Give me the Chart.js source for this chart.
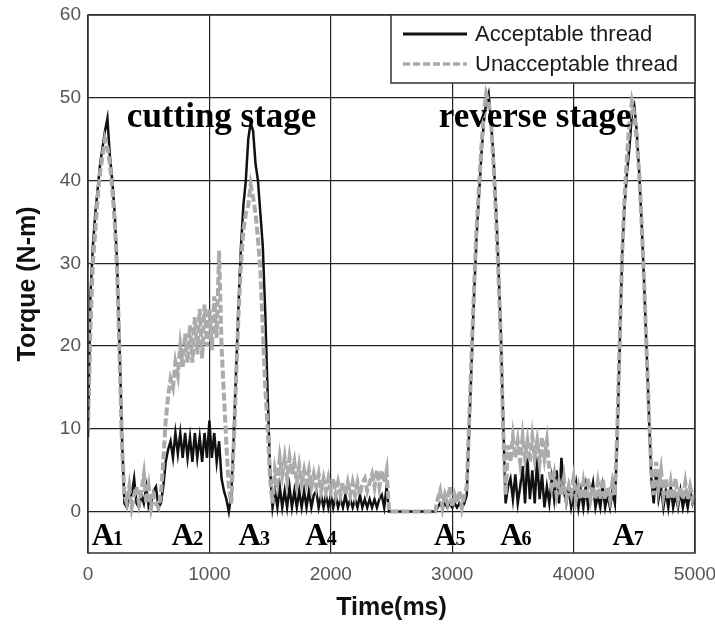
<!DOCTYPE html>
<html><head><meta charset="utf-8">
<script src="https://cdn.jsdelivr.net/npm/chart.js@4"></script>
<style>html,body{margin:0;padding:0;background:#fff;}canvas{display:block;}</style>
</head><body>
<canvas id="c" width="715" height="627"></canvas>
<script>
// ---------- data (time in ms, torque in N-m) ----------
const timeMs = [
  0,20,40,60,80,100,120,140,160,180,
  200,220,240,260,280,300,320,340,360,380,
  400,420,440,460,480,500,520,540,560,580,
  600,620,640,660,680,700,720,740,760,780,
  800,820,840,860,880,900,920,940,960,980,
  1000,1020,1040,1060,1080,1100,1120,1140,1160,1180,
  1200,1220,1240,1260,1280,1300,1320,1340,1360,1380,
  1400,1420,1440,1460,1480,1500,1520,1540,1560,1580,
  1600,1620,1640,1660,1680,1700,1720,1740,1760,1780,
  1800,1820,1840,1860,1880,1900,1920,1940,1960,1980,
  2000,2020,2040,2060,2080,2100,2120,2140,2160,2180,
  2200,2220,2240,2260,2280,2300,2320,2340,2360,2380,
  2400,2420,2440,2460,2480,2500,2520,2540,2560,2580,
  2600,2620,2640,2660,2680,2700,2720,2740,2760,2780,
  2800,2820,2840,2860,2880,2900,2920,2940,2960,2980,
  3000,3020,3040,3060,3080,3100,3120,3140,3160,3180,
  3200,3220,3240,3260,3280,3300,3320,3340,3360,3380,
  3400,3420,3440,3460,3480,3500,3520,3540,3560,3580,
  3600,3620,3640,3660,3680,3700,3720,3740,3760,3780,
  3800,3820,3840,3860,3880,3900,3920,3940,3960,3980,
  4000,4020,4040,4060,4080,4100,4120,4140,4160,4180,
  4200,4220,4240,4260,4280,4300,4320,4340,4360,4380,
  4400,4420,4440,4460,4480,4500,4520,4540,4560,4580,
  4600,4620,4640,4660,4680,4700,4720,4740,4760,4780,
  4800,4820,4840,4860,4880,4900,4920,4940,4960,4980,
  5000
];
const acceptableTorque = [
  9,26,32,36,39,42,44,46,47.5,43,
  40,36,30,20,9,1,0.5,1.5,2,4,
  1,0.5,2,1,3,0.5,1,2.5,3,0.5,
  1,3,6,7.5,8.5,6.5,9.5,7,9.5,6.5,
  9.5,6.5,9,6,9.5,6.5,9,6,9.5,6.5,
  11,6.5,9.5,6,8.5,4,2.5,1.5,0,2,
  9,17,25,32,37,40,45,47,46,42,
  40,36,32,24,14,5,0.5,2.5,0.5,3,
  0.5,2.5,0.5,3,0.5,2.5,0.5,2.5,0.5,2.5,
  0.5,2.5,0.5,2,2.5,0.5,2,0.5,2,0.5,
  2,0.5,2,0.5,1.5,0.5,2,0.5,1.5,0.5,
  1.5,0.5,2,0.5,1.5,0.5,1.5,0.5,1.5,0.5,
  1.5,2,0.5,3,0,0,0,0,0,0,
  0,0,0,0,0,0,0,0,0,0,
  0,0,0,0,0.5,1,0.5,1,0.5,1,
  0.5,1,0.5,1,0.5,1,2,10,18,26,
  33,38,43,47,49.5,50.5,47,43,37,30,
  22,11,1,3,4,1.5,4.5,1,3,5.5,
  1,6.5,1.5,5,1,6.5,1.5,4.5,0.5,3,
  1,4,1.5,5,1,6.5,2.5,1,3,0.5,
  2,3.5,0.5,2.5,0.5,3,0.5,2,3.5,0.5,
  2,0.5,3,0.5,2,0.5,2.5,1,9,20,
  31,37,41,44,48,49,46,41,35,28,
  20,12,4,1,5,1.5,3,0.5,2.5,0.5,
  3,0.5,2,0.5,2.5,0.5,2,0.5,2.5,1,
  2
];
const unacceptableTorque = [
  10,22,30,34,38,41,43,45,44,42,
  39,35,29,19,8,2,1,3,0.5,2,
  3,1,2.5,4.5,1,3,0.5,2,1,0.5,
  2,6,11,14,16,15,18,16.5,20,17.5,
  21.5,18,22.5,18,23.5,19,24.5,18.5,25,20,
  24.5,19.5,26,21,31.5,20,14,8,3,1,
  8,16,24,30,34,36,37,39.5,38,36,
  33,29,22,15,10,4,1,5,3.5,6.5,
  4.5,6.5,4,6.5,4.5,6,3.5,5.5,3.5,5,
  3.5,5,3,4.5,3,4.5,2.5,4,2.5,4,
  2.5,4,2,3.5,2,3.5,2,3.5,2,3.5,
  2,3.5,2,3.5,4,2.5,3.5,4.5,3,5,
  3,5,3.5,5,0,0,0,0,0,0,
  0,0,0,0,0,0,0,0,0,0,
  0,0,0,0,1.5,2.5,0.5,2,1,3,
  0.5,2,1,2.5,0.5,2,3,11,19,27,
  34,39,44,48,50.5,49.5,47,42,36,29,
  21,10,2,8,6,9,6.5,8.5,6,9,
  6.5,8.5,6,9,6.5,8.5,6,9,6.5,8.5,
  5,3,4.5,2,3.5,2,4,1.5,3,2,
  4,1.5,3,1.5,3.5,1.5,4,1.5,3,1.5,
  3.5,1.5,4,1.5,3,1.5,3.5,2,10,21,
  31,38,43,47,49.5,48,45,41,35,28,
  20,12,5,2,6,3,5,2,4,1.5,
  3.5,1.5,4,1.5,3,1.5,3.5,1.5,3,1.5,
  2.5
];
const xTickValues = [0,1000,2000,3000,4000,5000];
const yTickValues = [0,10,20,30,40,50,60];
const seriesLabels = ['Acceptable thread','Unacceptable thread'];
const stageLabels = ['cutting stage','reverse stage'];
const phaseLabels = ['A1','A2','A3','A4','A5','A6','A7'];

// ---------- layout (positions in data units) ----------
const stageAnchors = [{t:320, v:46.5},{t:2890, v:46.5}];
const phaseAnchorsMs = [30,690,1240,1790,2850,3395,4320];

const SANS = '"Liberation Sans", Arial, sans-serif';
const SERIF = '"Liberation Serif", "Times New Roman", serif';
const BLACK = '#111111';
const GREY = '#ababab';

const overlay = {
  id: 'overlay',
  afterDatasetsDraw(chart) {
    const {ctx, chartArea: a, scales: {x, y}} = chart;
    ctx.save();
    ctx.strokeStyle = '#333';
    ctx.lineWidth = 1.5;
    ctx.strokeRect(a.left, a.top, a.right - a.left, a.bottom - a.top);

    ctx.fillStyle = '#000';
    ctx.font = 'bold 35px ' + SERIF;
    ctx.textBaseline = 'alphabetic';
    ctx.textAlign = 'left';
    stageLabels.forEach((s, i) => {
      ctx.fillText(s, x.getPixelForValue(stageAnchors[i].t), y.getPixelForValue(stageAnchors[i].v));
    });

    phaseLabels.forEach((lab, i) => {
      const px = x.getPixelForValue(phaseAnchorsMs[i]);
      const py = a.bottom - 8;
      ctx.font = 'bold 31px ' + SERIF;
      ctx.fillText(lab[0], px, py);
      const w = ctx.measureText(lab[0]).width;
      ctx.font = 'bold 20px ' + SERIF;
      ctx.fillText(lab.slice(1), px + w - 1, py);
    });

    const lx = 391, ly = a.top, lw = a.right - 391, lh = 68;
    ctx.fillStyle = '#fff';
    ctx.fillRect(lx, ly, lw, lh);
    ctx.strokeStyle = '#333';
    ctx.lineWidth = 1.5;
    ctx.strokeRect(lx, ly, lw, lh);
    const ds = chart.data.datasets;
    const rows = [ly + 19, ly + 49];
    ds.forEach((d, i) => {
      ctx.beginPath();
      ctx.strokeStyle = d.borderColor;
      ctx.lineWidth = i === 0 ? 3 : 3.5;
      ctx.setLineDash(i === 0 ? [] : [7, 3]);
      ctx.moveTo(403, rows[i]);
      ctx.lineTo(467, rows[i]);
      ctx.stroke();
      ctx.setLineDash([]);
      ctx.fillStyle = '#1a1a1a';
      ctx.font = '22px ' + SANS;
      ctx.textBaseline = 'middle';
      ctx.fillText(d.label, 475, rows[i] + 1);
    });
    ctx.restore();
  }
};

const noPad = s => { s.paddingLeft = 0; s.paddingRight = 0; s.paddingTop = 0; s.paddingBottom = 0; };

new Chart(document.getElementById('c'), {
  type: 'line',
  data: {
    datasets: [
      {
        label: seriesLabels[0],
        data: timeMs.map((t, i) => ({x: t, y: acceptableTorque[i]})),
        borderColor: BLACK, borderWidth: 2.5, pointRadius: 0, tension: 0, order: 1, fill: false
      },
      {
        label: seriesLabels[1],
        data: timeMs.map((t, i) => ({x: t, y: unacceptableTorque[i]})),
        borderColor: GREY, borderWidth: 4, borderDash: [8, 3], pointRadius: 0, tension: 0, order: 0, fill: false
      }
    ]
  },
  options: {
    responsive: false,
    devicePixelRatio: 1,
    animation: false,
    events: [],
    layout: {padding: {left: 0, right: 20, top: 15, bottom: 0}},
    plugins: {legend: {display: false}, tooltip: {enabled: false}},
    scales: {
      x: {
        type: 'linear', min: 0, max: 5000,
        afterBuildTicks: s => { s.ticks = xTickValues.map(v => ({value: v})); },
        afterFit: s => { s.height = 74; noPad(s); },
        grid: {color: '#222', lineWidth: 1.2, drawTicks: false},
        border: {display: false},
        ticks: {font: {family: SANS, size: 19}, color: '#555', padding: 10, maxRotation: 0, callback: v => String(v)},
        title: {display: true, text: 'Time(ms)', font: {family: SANS, size: 25, weight: 'bold'}, color: '#111', padding: {top: 0, bottom: 4}}
      },
      y: {
        type: 'linear', min: -5, max: 60,
        afterBuildTicks: s => { s.ticks = yTickValues.map(v => ({value: v})); },
        afterFit: s => { s.width = 88; noPad(s); },
        grid: {color: '#222', lineWidth: 1.2, drawTicks: false},
        border: {display: false},
        ticks: {font: {family: SANS, size: 19}, color: '#555', padding: 7, callback: v => String(v)},
        title: {display: true, text: 'Torque (N-m)', font: {family: SANS, size: 25, weight: 'bold'}, color: '#111', padding: {top: 13, bottom: 0}}
      }
    }
  },
  plugins: [overlay]
});
</script>
</body></html>
